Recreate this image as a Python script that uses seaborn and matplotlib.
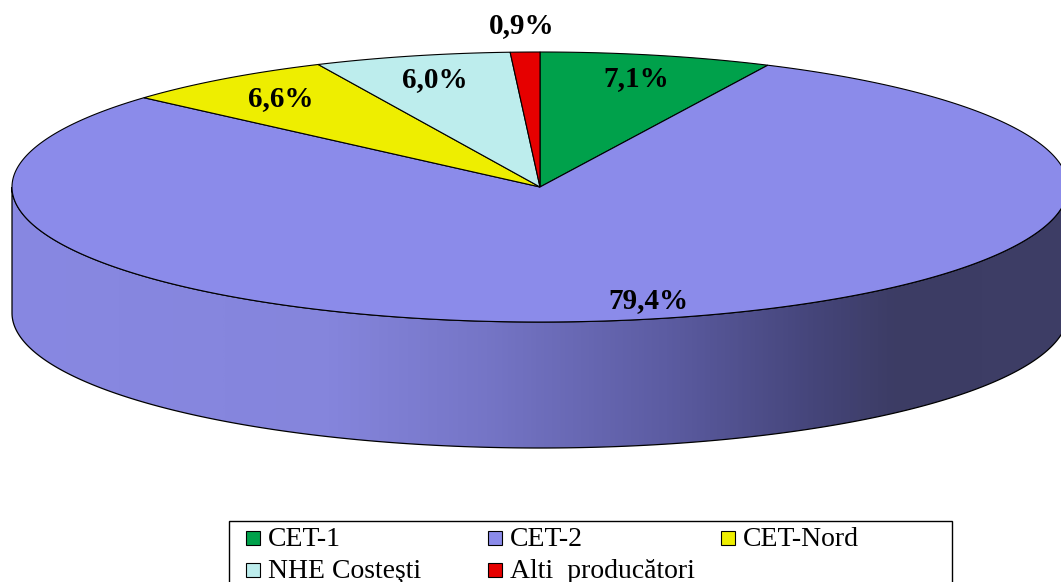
import numpy as np
import matplotlib
matplotlib.use("Agg")
import matplotlib.pyplot as plt
import seaborn as sns
from matplotlib.patches import Polygon, Rectangle
from matplotlib.colors import LinearSegmentedColormap

sns.set_style("white")
plt.rcParams["text.color"] = "black"

# ---- data ----
labels = ["CET-1", "CET-2", "CET-Nord", "NHE Costeşti", "Alti  producători"]
values = [7.1, 79.4, 6.6, 6.0, 0.9]
value_labels = ["7,1%", "79,4%", "6,6%", "6,0%", "0,9%"]
colors = ["#00A14B", "#8B8BEA", "#EEEE00", "#BDEDED", "#E60000"]

W, H = 1061, 582
fig = plt.figure(figsize=(W / 100, H / 100), dpi=100)
ax = fig.add_axes([0, 0, 1, 1])
ax.set_axis_off()

# pie geometry (pixel space)
cx, cy = 540, 187
a, b = 528, 135
depth = 126

def pt(frac_deg, r=1.0):
    t = np.deg2rad(frac_deg)
    return cx + a * r * np.sin(t), cy - b * r * np.cos(t)

# side (front half) with horizontal gradient
t = np.linspace(0, np.pi, 400)
top_x = cx + a * np.cos(t)
top_y = cy + b * np.sin(t)
side = np.vstack([np.column_stack([top_x, top_y]),
                  np.column_stack([top_x[::-1], top_y[::-1] + depth])])
side_poly = Polygon(side, closed=True, facecolor="none", edgecolor="black", lw=0.9, zorder=2)
ax.add_patch(side_poly)

stops = [(0.0, "#8888E2"), (0.30, "#8585DC"), (0.45, "#7575C6"), (0.62, "#5C5CA2"),
         (0.76, "#45457A"), (0.84, "#3C3C64"), (1.0, "#3E3E66")]
cmap = LinearSegmentedColormap.from_list("side", stops)
grad = np.linspace(0, 1, 512)[None, :]
im = ax.imshow(grad, cmap=cmap, aspect="auto",
               extent=[cx - a, cx + a, cy + b + depth, cy], zorder=1)
clip = Polygon(side, closed=True, transform=ax.transData)
im.set_clip_path(clip)

# top face wedges (clockwise from 12 o'clock)
total = sum(values)
start = 0.0
for v, c, lab in zip(values, colors, value_labels):
    sweep = v / total * 360.0
    ang = np.linspace(start, start + sweep, max(int(sweep * 3), 4))
    xs, ys = pt(ang)
    verts = np.vstack([[cx, cy], np.column_stack([xs, ys])])
    ax.add_patch(Polygon(verts, closed=True, facecolor=c, edgecolor="black",
                         lw=0.8, zorder=3))
    mid = start + sweep / 2
    r = 1.2 if v < 2 else (0.82 if v < 50 else 0.86)
    lx, ly = pt(mid, r)
    if v >= 50:
        lx += 18
    ax.text(lx, ly, lab, ha="center", va="center", fontsize=21,
            fontweight="bold", family="Liberation Serif", color="black", zorder=5)
    start += sweep

ax.set_xlim(0, W)
ax.set_ylim(H, 0)

# legend (row-major, 3 columns)
ax.add_patch(Rectangle((229, 520.5), 723, 100, facecolor="white",
                       edgecolor="black", lw=1.0, zorder=4))
col_x = [246, 488, 721]
row_y = [538, 570]
for i, (lab, c) in enumerate(zip(labels, colors)):
    x0 = col_x[i % 3]
    y0 = row_y[i // 3]
    ax.add_patch(Rectangle((x0, y0 - 7), 14, 14, facecolor=c, edgecolor="black",
                           lw=0.8, zorder=5))
    ax.text(x0 + 22, y0 + 1, lab, ha="left", va="center", fontsize=20,
            family="Liberation Serif", color="black", zorder=6)

fig.savefig("out.png", dpi=100, facecolor="white")
